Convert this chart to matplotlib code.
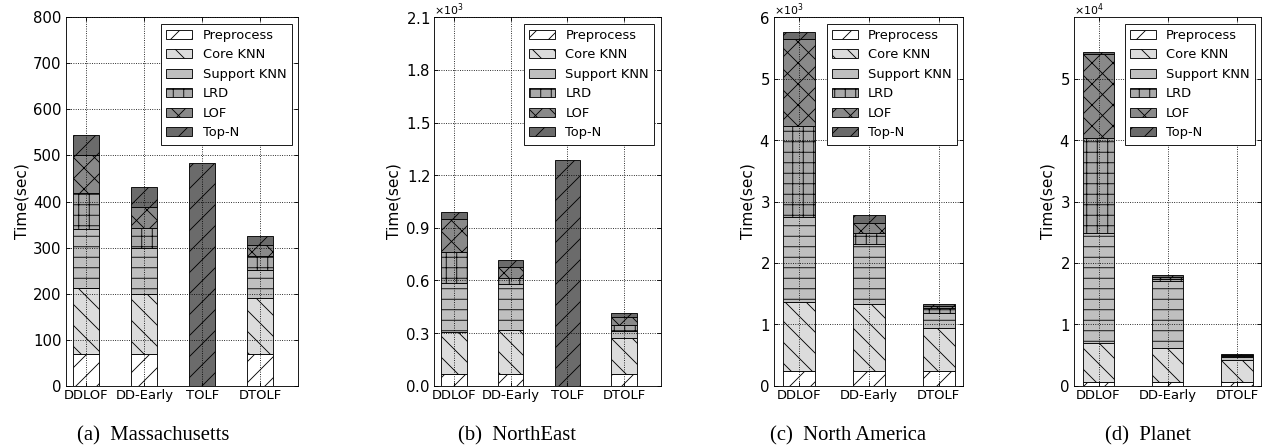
import matplotlib
matplotlib.use("Agg")
import matplotlib.pyplot as plt
import numpy as np
from matplotlib.ticker import ScalarFormatter

W, H, DPI = 1262, 446, 63

segments = ["Preprocess", "Core KNN", "Support KNN", "LRD", "LOF", "Top-N"]

# (a) Massachusetts
ma_methods = ["DDLOF", "DD-Early", "TOLF", "DTOLF"]
ma_pre = [69, 69, 0, 69]
ma_core = [143, 130, 0, 121]
ma_support = [128, 100, 0, 61]
ma_lrd = [79, 44, 0, 31]
ma_lof = [82, 45, 0, 24]
ma_topn = [43, 43, 484, 20]

# (b) NorthEast
ne_methods = ["DDLOF", "DD-Early", "TOLF", "DTOLF"]
ne_pre = [69, 69, 0, 69]
ne_core = [238, 246, 0, 205]
ne_support = [276, 265, 0, 40]
ne_lrd = [179, 36, 0, 30]
ne_lof = [188, 59, 0, 50]
ne_topn = [40, 40, 1288, 20]

# (c) North America
na_methods = ["DDLOF", "DD-Early", "DTOLF"]
na_pre = [235, 235, 235]
na_core = [1125, 1090, 702]
na_support = [1392, 985, 243]
na_lrd = [1477, 176, 85]
na_lof = [1412, 169, 40]
na_topn = [119, 125, 25]

# (d) Planet
pl_methods = ["DDLOF", "DD-Early", "DTOLF"]
pl_pre = [650, 580, 600]
pl_core = [6250, 5520, 3590]
pl_support = [18000, 11000, 540]
pl_lrd = [15500, 250, 150]
pl_lof = [13700, 300, 140]
pl_topn = [250, 350, 150]

captions = ["(a)  Massachusetts", "(b)  NorthEast", "(c)  North America", "(d)  Planet"]

colors = ["#ffffff", "#dcdcdc", "#bfbfbf", "#a9a9a9", "#898989", "#6b6b6b"]
hatches = ["/", "\\", "-", "+", "x", "/"]

panels = [
    (ma_methods, [ma_pre, ma_core, ma_support, ma_lrd, ma_lof, ma_topn], 800, 100, False, 4.0),
    (ne_methods, [ne_pre, ne_core, ne_support, ne_lrd, ne_lof, ne_topn], 2100, 300, True, 4.0),
    (na_methods, [na_pre, na_core, na_support, na_lrd, na_lof, na_topn], 6000, 1000, True, 2.7),
    (pl_methods, [pl_pre, pl_core, pl_support, pl_lrd, pl_lof, pl_topn], 60000, 10000, True, 2.7),
]

# axes rectangles in pixels: (left, width)
rects_px = [(66, 232), (434.3, 226.4), (774.3, 189), (1074.3, 187)]
ax_bottom_px, ax_top_px = 385.7, 17.3
caption_x_px = [153.5, 516.7, 848, 1147.6]
ylim_max_tick = [800, 2100, 6000, 50000]

plt.rcParams["font.family"] = ["DejaVu Sans"]
plt.rcParams["hatch.linewidth"] = 1.0

fig = plt.figure(figsize=(W / DPI, H / DPI), dpi=DPI)

for k, (methods, stacks, ymax, ystep, sci, xmax) in enumerate(panels):
    left, width = rects_px[k]
    ax = fig.add_axes([left / W, (H - ax_bottom_px) / H, width / W,
                       (ax_bottom_px - ax_top_px) / H])
    x = np.arange(len(methods)) + 0.35
    bottom = np.zeros(len(methods))
    handles = []
    for seg, vals, c, h in zip(segments, stacks, colors, hatches):
        vals = np.asarray(vals, dtype=float)
        bars = ax.bar(x, vals, 0.45, bottom=bottom, color=c, edgecolor="black",
                      hatch=h, linewidth=1.0, label=seg, zorder=1)
        handles.append(bars)
        bottom = bottom + vals
    ax.set_xlim(0, xmax)
    ax.set_ylim(0, ymax)
    ax.set_yticks(np.arange(0, ylim_max_tick[k] + 1, ystep))
    ax.set_xticks(x)
    ax.set_xticklabels(methods, fontsize=15)
    ax.tick_params(axis="y", labelsize=17, pad=5)
    ax.tick_params(axis="x", pad=4)
    ax.tick_params(direction="in", top=True, right=True, length=5, width=1.0)
    if sci:
        fmt = ScalarFormatter(useMathText=True)
        fmt.set_powerlimits((0, 0))
        ax.yaxis.set_major_formatter(fmt)
        ax.yaxis.get_offset_text().set_fontsize(12.5)
    ax.grid(True, linestyle=":", color="black", linewidth=1.0)
    ax.set_axisbelow(False)
    for sp in ax.spines.values():
        sp.set_linewidth(1.0)
    ax.set_ylabel("Time(sec)", fontsize=17.5)
    leg = ax.legend(handles=handles, labels=segments, loc="upper right",
                    fontsize=14.8, fancybox=False, framealpha=1.0,
                    edgecolor="black")
    leg.get_frame().set_linewidth(1.0)
    leg.set_zorder(5)
    fig.text(caption_x_px[k] / W, (H - 440) / H, captions[k], ha="center",
             va="baseline", fontsize=23.5, family=["Liberation Serif"])

fig.savefig("out.png", dpi=DPI)
